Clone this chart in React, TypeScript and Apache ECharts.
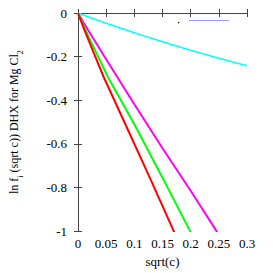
import React, { useEffect, useRef } from "react";
import * as echarts from "echarts";

const xTicks = [0, 0.05, 0.1, 0.15, 0.2, 0.25, 0.3];
const yTicks = [0, -0.2, -0.4, -0.6, -0.8, -1];

const redX = [0, 0.01, 0.02, 0.045, 0.0867, 0.13, 0.17, 0.18];
const redY = [0, -0.068, -0.132, -0.29, -0.525, -0.77, -1.0, -1.058];

const greenX = [0, 0.01, 0.02, 0.053, 0.1, 0.15, 0.199, 0.21];
const greenY = [0, -0.059, -0.115, -0.293, -0.51, -0.755, -1.0, -1.055];

const magentaX = [0, 0.01, 0.02, 0.05, 0.1, 0.15, 0.2, 0.246, 0.26];
const magentaY = [0, -0.045, -0.087, -0.212, -0.418, -0.62, -0.815, -1.0, -1.056];

const cyanX = [0, 0.025, 0.05, 0.075, 0.1, 0.125, 0.15, 0.175, 0.2, 0.225, 0.25, 0.275, 0.3];
const cyanY = [0, -0.0238, -0.0468, -0.069, -0.0906, -0.1116, -0.1319, -0.1516, -0.1708, -0.1894, -0.2074, -0.225, -0.2421];

const xTitle = "sqrt(c)";
const yTitle = "ln f{sub|i} (sqrt c)) DHX for Mg Cl{sub|2}";

const zip = (xs: number[], ys: number[]) => xs.map((x, i) => [x, ys[i]]);

const fmt = (v: number) => String(parseFloat(v.toFixed(2)));

export default function App() {
  const ref = useRef<HTMLDivElement>(null);
  useEffect(() => {
    if (!ref.current) return;
    const chart = echarts.init(ref.current, null, { renderer: "svg" });
    const font = "'Liberation Serif', 'Times New Roman', Times, serif";
    const axisLine = { show: true, lineStyle: { color: "#444", width: 1 } };
    const tick = { show: true, inside: true, length: 4, lineStyle: { color: "#444" } };
    const line = (name: string, data: number[][], color: string, width: number) => ({
      type: "line",
      name,
      data,
      showSymbol: false,
      symbol: "none",
      smooth: false,
      clip: true,
      lineStyle: { color, width },
      xAxisIndex: 0,
      yAxisIndex: 0,
    });
    chart.setOption({
      animation: false,
      backgroundColor: "#fff",
      textStyle: { fontFamily: font },
      grid: { left: 78, right: 26, top: 13, bottom: 32, containLabel: false },
      xAxis: [
        {
          type: "value",
          min: xTicks[0],
          max: xTicks[xTicks.length - 1],
          interval: 0.05,
          position: "bottom",
          axisLine,
          axisTick: tick,
          splitLine: { show: false },
          axisLabel: { color: "#000", fontFamily: font, fontSize: 13, margin: 6, formatter: (v: number) => fmt(v) },
          name: xTitle,
          nameLocation: "middle",
          nameGap: 19,
          nameTextStyle: { color: "#000", fontFamily: font, fontSize: 13 },
        },
        {
          type: "value",
          min: xTicks[0],
          max: xTicks[xTicks.length - 1],
          interval: 0.05,
          position: "top",
          axisLine,
          axisTick: tick,
          splitLine: { show: false },
          axisLabel: { show: false },
        },
      ],
      yAxis: [
        {
          type: "value",
          min: yTicks[yTicks.length - 1],
          max: yTicks[0],
          interval: 0.2,
          position: "left",
          axisLine,
          axisTick: tick,
          splitLine: { show: false },
          axisLabel: { color: "#000", fontFamily: font, fontSize: 13, margin: 11, formatter: (v: number) => fmt(v) },
          name: yTitle,
          nameLocation: "middle",
          nameGap: 58,
          nameRotate: 90,
          nameTextStyle: {
            color: "#000",
            fontFamily: font,
            fontSize: 12,
            rich: {
              sub: { fontFamily: font, fontSize: 8, verticalAlign: "bottom", padding: [0, 0, -4, 0] },
            },
          },
        },
        {
          type: "value",
          min: yTicks[yTicks.length - 1],
          max: yTicks[0],
          interval: 0.2,
          position: "right",
          axisLine,
          axisTick: tick,
          splitLine: { show: false },
          axisLabel: { show: false },
        },
      ],
      series: [
        line("cyan", zip(cyanX, cyanY), "#00ffff", 1.5),
        line("magenta", zip(magentaX, magentaY), "#ff00ff", 2),
        line("green", zip(greenX, greenY), "#00ff00", 2),
        line("red", zip(redX, redY), "#ff0000", 2),
      ],
      graphic: [
        { type: "rect", shape: { x: 178, y: 22, width: 1.2, height: 1.2 }, style: { fill: "#000" } },
        { type: "line", shape: { x1: 189, y1: 20.5, x2: 229, y2: 20.5 }, style: { stroke: "#9a9aff", lineWidth: 1 } },
      ],
    });
    return () => chart.dispose();
  }, []);
  return <div ref={ref} style={{ width: 273, height: 273, position: "absolute", left: 0, top: 0 }} />;
}
